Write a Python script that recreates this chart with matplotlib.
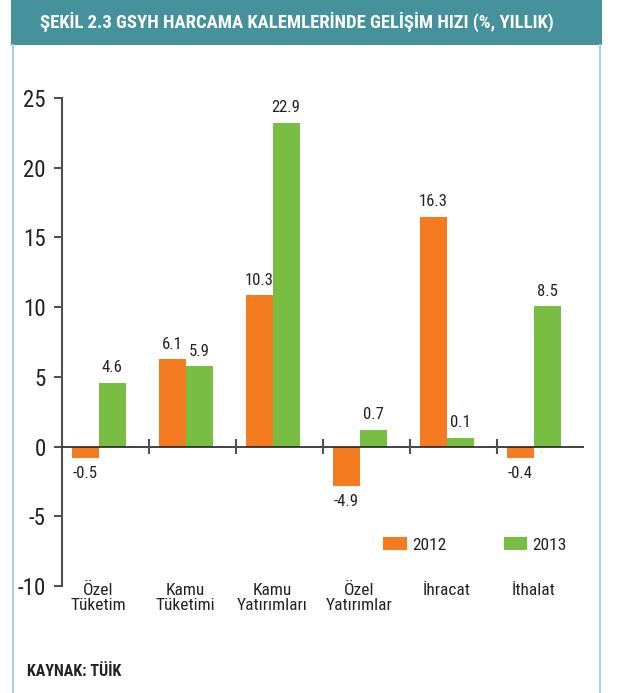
import matplotlib
matplotlib.use("Agg")
import matplotlib.pyplot as plt
import matplotlib.font_manager as fm
import numpy as np
from matplotlib.patches import Rectangle
from matplotlib.lines import Line2D

categories = ["Özel\nTüketim", "Kamu\nTüketimi", "Kamu\nYatırımları",
              "Özel\nYatırımlar", "İhracat", "İthalat"]
series_names = ["2012", "2013"]
# bar heights as drawn in the picture
bars_2012 = [-0.85, 6.25, 10.85, -2.85, 16.45, -0.85]
bars_2013 = [4.55, 5.75, 23.2, 1.2, 0.6, 10.05]
# printed value labels
labels_2012 = ["-0.5", "6.1", "10.3", "-4.9", "16.3", "-0.4"]
labels_2013 = ["4.6", "5.9", "22.9", "0.7", "0.1", "8.5"]
yticks = [-10, -5, 0, 5, 10, 15, 20, 25]

title = "ŞEKİL 2.3 GSYH HARCAMA KALEMLERİNDE GELİŞİM HIZI (%, YILLIK)"
source = "KAYNAK: TÜİK"

ORANGE = "#F47B20"
GREEN = "#77BE43"
TEAL = "#45929C"
BORDER = "#A8D3DD"
AXIS = "#505050"
TEXT = "#222222"

files = {f.fname.split("/")[-1]: f.fname for f in fm.fontManager.ttflist}

def find(cands):
    for c in cands:
        if c in files:
            return fm.FontProperties(fname=files[c])
    return None

fp_reg = find(["RobotoCondensed-Regular.ttf", "FiraSansCondensed-Regular.ttf",
               "BarlowSemiCondensed-Regular.ttf", "DejaVuSansCondensed.ttf"])
fp_bold = find(["RobotoCondensed-Bold.ttf", "FiraSansCondensed-Bold.ttf",
                "BarlowSemiCondensed-Bold.ttf", "DejaVuSansCondensed-Bold.ttf"])

def props(size, bold=False):
    fp = (fp_bold if bold else fp_reg)
    if fp is None:
        return fm.FontProperties(family="DejaVu Sans", size=size,
                                 weight="bold" if bold else "normal")
    p = fp.copy()
    p.set_size(size)
    return p

W, H = 627, 693
fig = plt.figure(figsize=(W / 100, H / 100), dpi=100)
fig.patch.set_facecolor("white")

fig.add_artist(Rectangle((11 / W, 1 - 45 / H), 591 / W, 45 / H,
                         transform=fig.transFigure, facecolor=TEAL, edgecolor="none"))
fig.add_artist(Line2D([12.5 / W, 12.5 / W], [0, 1 - 45 / H], transform=fig.transFigure,
                      color=BORDER, lw=1.5))
fig.add_artist(Line2D([600 / W, 600 / W], [0, 1 - 45 / H], transform=fig.transFigure,
                      color=BORDER, lw=1.5))
fig.text(40 / W, 1 - 22 / H, title, color="white", fontproperties=props(13.4, True),
         ha="left", va="center")
fig.text(27 / W, 1 - 671 / H, source, color=TEXT, fontproperties=props(11.5, True),
         ha="left", va="center")

left, right, top, bottom = 62, 584, 98, 586
ax = fig.add_axes([left / W, 1 - bottom / H, (right - left) / W, (bottom - top) / H])
n = len(categories)
ax.set_xlim(0, n)
ax.set_ylim(-10, 25)

centers = np.arange(n) + 0.5 - 0.08
bw = 0.31
ax.bar(centers - bw / 2, bars_2012, width=bw, color=ORANGE, label=series_names[0], zorder=2)
ax.bar(centers + bw / 2, bars_2013, width=bw, color=GREEN, label=series_names[1], zorder=2)

for xs, vals, labs in [(centers - bw / 2, bars_2012, labels_2012),
                       (centers + bw / 2, bars_2013, labels_2013)]:
    for x, v, lab in zip(xs, vals, labs):
        off = 11 if v >= 0 else -11
        ax.annotate(lab, (x, v), xytext=(0, off), textcoords="offset points",
                    ha="center", va="center", fontproperties=props(12), color=TEXT)

ax.axhline(0, color="#222222", lw=1.2, zorder=3)
ax.vlines(np.arange(1, n), -0.55, 0.55, color=AXIS, lw=1.5, zorder=3)

for x, c in zip(centers, categories):
    ax.text(x, -9.75, c, ha="center", va="top", fontproperties=props(12.5), color=TEXT,
            linespacing=1.05)

for s in ["top", "right", "bottom"]:
    ax.spines[s].set_visible(False)
ax.spines["left"].set_color(AXIS)
ax.spines["left"].set_linewidth(1.5)
ax.set_xticks([])
ax.set_yticks(yticks)
ax.set_yticklabels([str(t) for t in yticks])
for lab in ax.get_yticklabels():
    lab.set_fontproperties(props(16.5))
ax.tick_params(axis="y", length=5.8, width=1.5, color=AXIS,
               labelcolor=TEXT, pad=6)

leg = ax.legend(frameon=False, ncol=2, prop=props(12.5), handlelength=1.38, handleheight=0.7,
                handletextpad=0.29, columnspacing=3.3, borderaxespad=0, borderpad=0,
                loc="center left")
leg.set_bbox_to_anchor((383 / W, 1 - 545 / H), transform=fig.transFigure)
for t in leg.get_texts():
    t.set_color(TEXT)

fig.savefig("out.png", dpi=100, facecolor="white")
